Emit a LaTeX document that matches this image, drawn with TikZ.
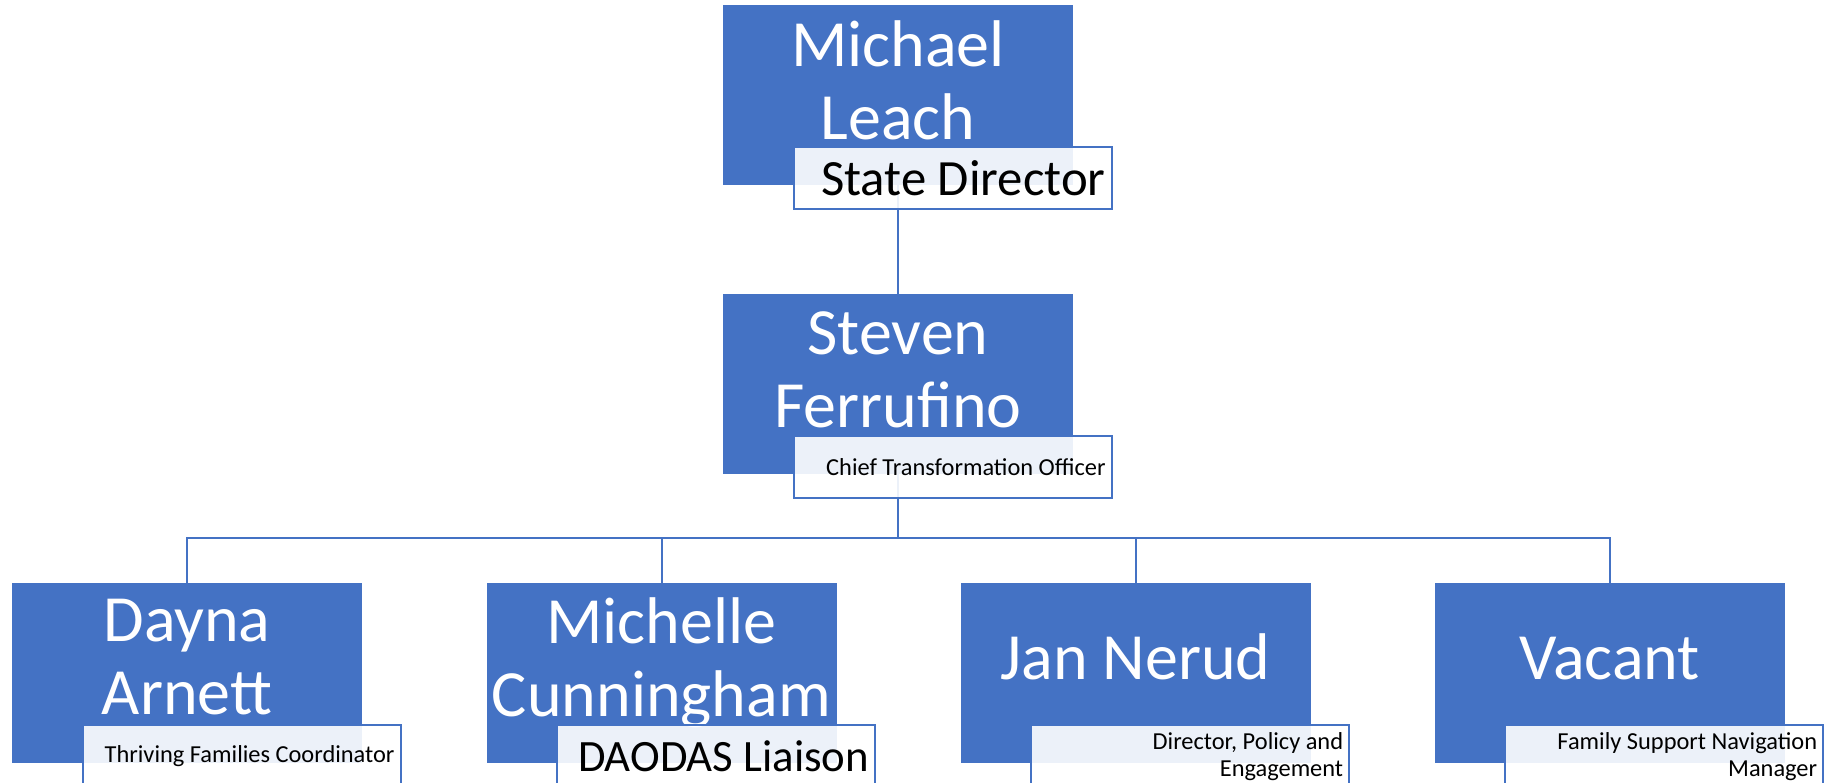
\documentclass[tikz,border=0pt]{standalone}
\usepackage{fontspec}
\setmainfont{Carlito}
\usetikzlibrary{positioning, backgrounds}
\definecolor{boxblue}{HTML}{4472C4}

\begin{document}
\begin{tikzpicture}[x=0.5pt,y=-0.5pt,
  person node/.style={rectangle,fill=boxblue,minimum width=175pt,minimum height=90pt,inner sep=0pt},
  name text/.style={text=white,align=center,inner sep=0pt,anchor=base,font=\fontsize{33}{36.5}\selectfont},
  role node/.style={rectangle,draw=boxblue,line width=1pt,fill=white,fill opacity=0.9,text opacity=1,
    text width=153pt,inner xsep=3pt,inner ysep=0pt,minimum height=31pt,align=flush right,anchor=north west,
    font=\fontsize{12.2}{13.6}\selectfont}]
  \useasboundingbox (0,0) rectangle (1839,782);
  % boxes
  \node[person node] (ML) at (898,95) {};
  \node[person node] (SF) at (898,384) {};
  \node[person node] (DA) at (187,673) {};
  \node[person node] (MC) at (661.5,673) {};
  \node[person node] (JN) at (1135.5,673) {};
  \node[person node] (VA) at (1609.5,673) {};
  % names (base = last line)
  \node[name text] (MLn) at ([yshift=-67.5pt]ML.north) {Michael\\Leach};
  \node[name text] (SFn) at ([yshift=-67pt]SF.north) {Steven\\Ferrufino};
  \node[name text] (DAn) at ([yshift=-66pt]DA.north) {Dayna\\Arnett};
  \node[name text] (MCn) at ([yshift=-67pt]MC.north) {Michelle\\Cunningham};
  \node[name text] (JNn) at ([yshift=-48.5pt]JN.north) {Jan Nerud};
  \node[name text] (VAn) at ([yshift=-48.5pt]VA.north) {Vacant};
  % titles
  \node[role node,font=\fontsize{25.4}{29}\selectfont] (MLt) at ([xshift=35pt,yshift=19.5pt]ML.south west) {State Director};
  \node[role node] (SFt) at ([xshift=35pt,yshift=19.5pt]SF.south west) {Chief Transformation Officer};
  \node[role node] (DAt) at ([xshift=35pt,yshift=19.5pt]DA.south west) {Thriving Families Coordinator};
  \node[role node,font=\fontsize{22.4}{27}\selectfont] (MCt) at ([xshift=35pt,yshift=19.5pt]MC.south west) {DAODAS Liaison};
  \node[role node] (JNt) at ([xshift=35pt,yshift=19.5pt]JN.south west) {Director, Policy and\\Engagement};
  \node[role node] (VAt) at ([xshift=35pt,yshift=19.5pt]VA.south west) {Family Support Navigation\\Manager};
  % connectors
  \begin{scope}[on background layer]
    \coordinate (bus) at (898,538);
    \path[draw=boxblue,line width=1pt] (ML) edge (SF) (SF) edge (bus);
    \foreach \p in {DA,MC,JN,VA}
      \draw[boxblue,line width=1pt] (bus) -| (\p);
  \end{scope}
\end{tikzpicture}
\end{document}
